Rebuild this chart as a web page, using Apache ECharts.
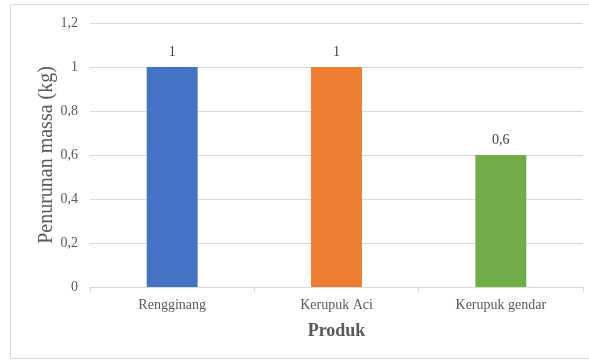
<!DOCTYPE html>
<html>
<head>
<meta charset="utf-8">
<script src="https://cdn.jsdelivr.net/npm/echarts@6/dist/echarts.min.js"></script>
<style>
  html, body { margin: 0; padding: 0; background: #fff; }
  #chart { width: 589px; height: 360px; }
</style>
</head>
<body>
<div id="chart"></div>
<script>
// data
var categories = ['Rengginang', 'Kerupuk Aci', 'Kerupuk gendar'];
var values = [1, 1, 0.6];
var barColors = ['#4472C4', '#ED7D31', '#70AD47'];
var yTicks = [0, 0.2, 0.4, 0.6, 0.8, 1, 1.2];

var serif = "'Liberation Serif', 'Times New Roman', serif";

function fmt(v) {
  return String(v).replace('.', ',');
}

var chart = echarts.init(document.getElementById('chart'));

var option = {
  animation: false,
  // bingkai grafik
  graphic: [{
    type: 'rect',
    shape: { x: 10.5, y: 4.5, width: 600, height: 354 },
    style: { fill: 'none', stroke: '#d9d9d9', lineWidth: 1 },
    silent: true
  }],
  grid: {
    left: 90,
    right: 6,
    top: 23,
    bottom: 73
  },
  xAxis: {
    type: 'category',
    data: categories,
    name: 'Produk',
    nameLocation: 'middle',
    nameGap: 35,
    nameTextStyle: {
      fontFamily: serif,
      fontSize: 18,
      fontWeight: 'bold',
      color: '#595959'
    },
    axisLine: { lineStyle: { color: '#d9d9d9' } },
    axisTick: { show: true, length: 5, alignWithLabel: false, lineStyle: { color: '#d9d9d9' } },
    axisLabel: {
      fontFamily: serif,
      fontSize: 14,
      color: '#595959',
      margin: 11
    }
  },
  yAxis: {
    type: 'value',
    min: yTicks[0],
    max: yTicks[yTicks.length - 1],
    interval: 0.2,
    name: 'Penurunan massa (kg)',
    nameLocation: 'middle',
    nameGap: 33,
    nameMoveOverlap: false,
    nameTextStyle: {
      fontFamily: serif,
      fontSize: 20,
      color: '#595959'
    },
    axisLine: { show: false },
    axisTick: { show: false },
    splitLine: { lineStyle: { color: '#d9d9d9' } },
    axisLabel: {
      fontFamily: serif,
      fontSize: 14,
      color: '#595959',
      margin: 12,
      formatter: function (v) { return fmt(Math.round(v * 10) / 10); }
    }
  },
  series: [{
    type: 'bar',
    barWidth: '31%',
    data: values.map(function (v, i) {
      return { value: v, itemStyle: { color: barColors[i] } };
    }),
    label: {
      show: true,
      position: 'top',
      distance: 8,
      fontFamily: serif,
      fontSize: 14,
      color: '#404040',
      formatter: function (p) { return fmt(p.value); }
    }
  }]
};

chart.setOption(option);
</script>
</body>
</html>
